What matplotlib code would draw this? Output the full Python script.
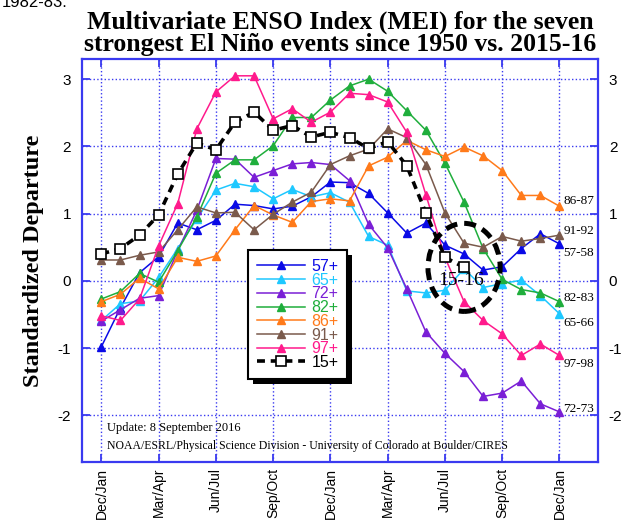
import numpy as np
import matplotlib.pyplot as plt
from matplotlib.patches import Ellipse, Rectangle

# seasons (bimonthly running), Dec/Jan of year 0 to Dec/Jan of year +2
tick_labels = ['Dec/Jan', 'Mar/Apr', 'Jun/Jul', 'Sep/Oct',
               'Dec/Jan', 'Mar/Apr', 'Jun/Jul', 'Sep/Oct', 'Dec/Jan']

mei_57 = [-0.98, -0.40, 0.12, 0.36, 0.86, 0.76, 0.90, 1.14, 1.12, 1.07, 1.11, 1.25, 1.47,
          1.46, 1.30, 1.01, 0.71, 0.86, 0.53, 0.40, 0.16, 0.21, 0.48, 0.70, 0.55]
mei_65 = [-0.59, -0.34, -0.30, 0.05, 0.48, 0.92, 1.35, 1.45, 1.40, 1.22, 1.36, 1.25, 1.31,
          1.17, 0.66, 0.53, -0.15, -0.18, -0.14, 0.18, -0.10, -0.04, 0.01, -0.22, -0.49]
mei_72 = [-0.60, -0.43, -0.26, -0.22, 0.45, 1.05, 1.82, 1.81, 1.54, 1.64, 1.74, 1.76, 1.73,
          1.49, 0.84, 0.49, -0.12, -0.76, -1.08, -1.35, -1.72, -1.67, -1.49, -1.83, -1.95]
mei_82 = [-0.27, -0.16, 0.11, -0.02, 0.45, 0.95, 1.60, 1.80, 1.80, 2.01, 2.43, 2.43, 2.69,
          2.90, 3.00, 2.82, 2.53, 2.24, 1.75, 1.17, 0.48, 0.02, -0.13, -0.18, -0.31]
mei_86 = [-0.31, -0.20, 0.04, -0.12, 0.35, 0.29, 0.37, 0.76, 1.12, 0.98, 0.87, 1.18, 1.22,
          1.19, 1.71, 1.84, 2.09, 1.95, 1.85, 1.99, 1.86, 1.64, 1.27, 1.27, 1.11]
mei_91 = [0.31, 0.31, 0.38, 0.43, 0.76, 1.10, 1.01, 1.02, 0.76, 0.99, 1.17, 1.32, 1.73,
          1.86, 1.96, 2.26, 2.13, 1.73, 1.01, 0.56, 0.50, 0.66, 0.59, 0.63, 0.68]
mei_97 = [-0.52, -0.59, -0.27, 0.52, 1.15, 2.26, 2.81, 3.05, 3.05, 2.41, 2.56, 2.36, 2.51,
          2.79, 2.77, 2.66, 2.21, 1.28, 0.35, -0.31, -0.59, -0.79, -1.11, -0.94, -1.11]
mei_15 = [0.40, 0.48, 0.68, 0.98, 1.59, 2.05, 1.95, 2.36, 2.51, 2.24, 2.31, 2.14, 2.21,
          2.13, 1.97, 2.07, 1.71, 1.01, 0.35, 0.20]

series = [('57+', mei_57, '#0a0ae6'), ('65+', mei_65, '#1ec8ff'), ('72+', mei_72, '#7a1fd6'),
          ('82+', mei_82, '#1fae3c'), ('86+', mei_86, '#ff7a1a'), ('91+', mei_91, '#7a5a4c'),
          ('97+', mei_97, '#ff1a8c')]

blue = '#3a3af0'
serif = 'Liberation Serif'
sans = 'Liberation Sans'

fig = plt.figure(figsize=(6.34, 5.25), dpi=100)
ax = fig.add_axes([0.1298, 0.1194, 0.8129, 0.7682])

for name, vals, col in series:
    ax.plot(np.arange(len(vals)), vals, color=col, lw=1.1, marker='^', ms=5.5,
            mec=col, label=name, zorder=3)
ax.plot(np.arange(len(mei_15)), mei_15, color='black', lw=2.6, ls=(0, (2.2, 1.6)),
        marker='s', ms=7, mfc='white', mec='black', mew=1.2, label='15+', zorder=4)

ax.set_xlim(-1, 26)
ax.set_ylim(-2.7, 3.3)
ax.set_xticks(np.arange(0, 25, 3))
ax.set_xticklabels(tick_labels, rotation=90, family=sans, fontsize=10)
ax.set_yticks(range(-2, 4))
ax.set_yticklabels([str(v) for v in range(-2, 4)], family=sans, fontsize=11)
ax.tick_params(direction='in', top=True, right=True, labelright=True, length=6,
               width=1.3, color=blue)
ax.tick_params(axis='x', pad=4)
ax.tick_params(axis='y', pad=8)
ax.grid(True, color=blue, ls=':', lw=1.0)
for s in ax.spines.values():
    s.set_color(blue)
    s.set_linewidth(1.6)

ax.set_ylabel('Standardized Departure', family=serif, fontweight='bold', fontsize=17.5,
              labelpad=10)
fig.text(0.537, 0.958, 'Multivariate ENSO Index (MEI) for the seven', ha='center',
         va='center', family=serif, fontweight='bold', fontsize=18.5)
fig.text(0.537, 0.915, 'strongest El Ni\u00f1o events since 1950 vs. 2015-16', ha='center',
         va='center', family=serif, fontweight='bold', fontsize=18.5)
fig.text(0.002, 1 - 7 / 525, '1982-83.', ha='left', va='baseline', family=sans, fontsize=12)

# event labels at the right end
end_labels = [('86-87', 1.19), ('91-92', 0.74), ('57-58', 0.41), ('82-83', -0.26),
              ('65-66', -0.63), ('97-98', -1.24), ('72-73', -1.90)]
for txt, yv in end_labels:
    ax.text(24.2, yv, txt, ha='left', va='center', family=serif, fontsize=9.5)

ax.add_patch(Ellipse((19.0, 0.2), 3.78, 1.31, fill=False, ec='black', lw=3.6,
                     ls=(0, (2.4, 1.4)), zorder=5))
ax.text(18.85, 0.0, '15-16', ha='center', va='center', family=serif, fontsize=14, zorder=6)

ax.text(0.047, 0.085, 'Update: 8 September 2016', transform=ax.transAxes,
        family=serif, fontsize=9, va='center')
ax.text(0.047, 0.04, 'NOAA/ESRL/Physical Science Division - University of Colorado at Boulder/CIRES',
        transform=ax.transAxes, family=serif, fontsize=8.5, va='center')

leg = ax.legend(loc='upper left', bbox_to_anchor=(0.322, 0.526), borderaxespad=0,
                fancybox=False, edgecolor='black',
                framealpha=1, handlelength=3.0, handletextpad=0.4, labelspacing=-0.08,
                borderpad=0.55, labelcolor='linecolor', numpoints=1,
                prop={'family': sans, 'size': 11.5})
leg.get_frame().set_linewidth(1.5)
leg.set_zorder(7)

# solid black drop shadow behind the legend box
fig.canvas.draw()
bb = leg.get_window_extent().transformed(fig.transFigure.inverted())
dx, dy = 5 / 634, 5 / 525
ax.add_patch(Rectangle((bb.x0 + dx, bb.y0 - dy), bb.width, bb.height,
                       transform=fig.transFigure, fc='black', ec='none', zorder=6.5,
                       clip_on=False))

fig.savefig('out.png', dpi=100)
